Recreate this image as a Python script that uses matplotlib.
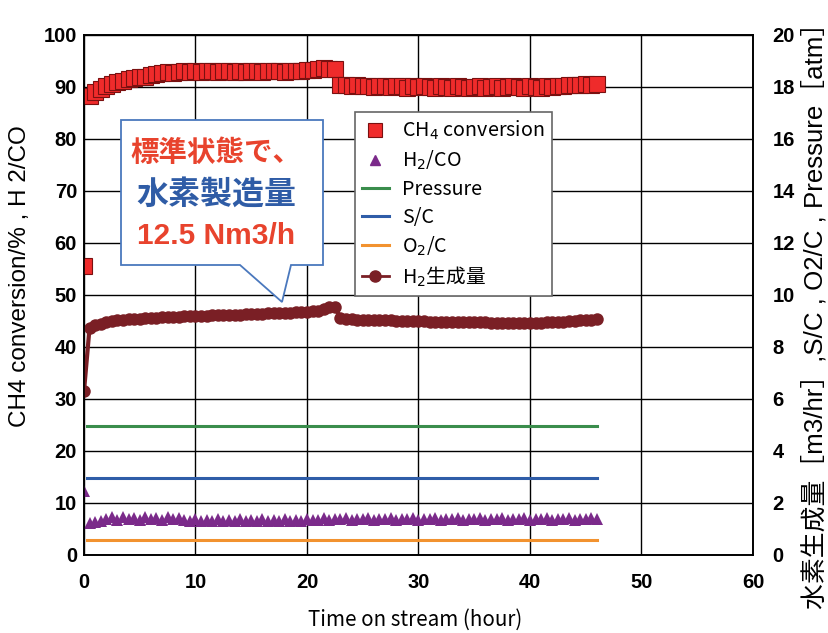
import matplotlib
matplotlib.use("Agg")
import matplotlib.pyplot as plt
from matplotlib.patches import Polygon
from matplotlib.lines import Line2D

# ---------------- data ----------------
hours = [0, 0.5, 1, 1.5, 2, 2.5, 3, 3.5, 4, 4.5,
         5, 5.5, 6, 6.5, 7, 7.5, 8, 8.5, 9, 9.5,
         10, 10.5, 11, 11.5, 12, 12.5, 13, 13.5, 14, 14.5,
         15, 15.5, 16, 16.5, 17, 17.5, 18, 18.5, 19, 19.5,
         20, 20.5, 21, 21.5, 22, 22.5, 23, 23.5, 24, 24.5,
         25, 25.5, 26, 26.5, 27, 27.5, 28, 28.5, 29, 29.5,
         30, 30.5, 31, 31.5, 32, 32.5, 33, 33.5, 34, 34.5,
         35, 35.5, 36, 36.5, 37, 37.5, 38, 38.5, 39, 39.5,
         40, 40.5, 41, 41.5, 42, 42.5, 43, 43.5, 44, 44.5,
         45, 45.5, 46]

ch4_conv = [55.5, 88.3, 89.0, 89.6, 90.1, 90.6, 90.9, 91.2, 91.5, 91.7,
            91.9, 92.0, 92.3, 92.5, 92.6, 92.8, 92.6, 92.9, 93.0, 92.9,
            93.0, 92.9, 93.1, 93.0, 92.9, 93.0, 93.1, 92.9, 93.0, 92.8,
            93.0, 93.1, 92.9, 93.0, 93.1, 93.0, 92.9, 93.0, 93.1, 93.0,
            93.2, 93.3, 93.4, 93.6, 93.5, 93.4, 90.4, 90.3, 90.2, 90.3,
            90.1, 90.2, 90.0, 90.2, 90.1, 90.0, 90.2, 90.1, 89.9, 90.1,
            90.0, 90.2, 90.0, 89.9, 90.1, 90.0, 89.9, 90.1, 90.0, 89.8,
            90.0, 90.1, 89.9, 90.0, 90.1, 89.9, 90.0, 90.1, 90.0, 89.9,
            90.1, 90.0, 89.9, 90.1, 90.0, 90.2, 90.1, 90.3, 90.4, 90.3,
            90.5, 90.4, 90.6]

h2_co = [12.3, 6.2, 6.3, 6.5, 6.9, 7.3, 6.8, 7.3, 6.9, 7.2,
         6.8, 7.3, 6.9, 7.2, 6.8, 7.3, 6.9, 7.2, 6.8, 6.6,
         6.9, 6.6, 6.8, 6.5, 6.9, 6.6, 6.8, 6.6, 6.9, 6.5,
         6.8, 6.6, 6.9, 6.6, 6.8, 6.5, 6.9, 6.6, 6.8, 6.6,
         6.9, 6.7, 6.8, 7.1, 6.8, 7.0, 6.9, 7.1, 6.8, 7.0,
         6.9, 7.1, 6.8, 7.0, 6.9, 7.1, 6.8, 7.0, 6.9, 7.1,
         6.8, 7.0, 6.9, 7.1, 6.8, 7.0, 6.9, 7.1, 6.8, 7.0,
         6.9, 7.1, 6.8, 7.0, 6.9, 7.1, 6.8, 7.0, 6.9, 7.1,
         6.8, 7.0, 6.9, 7.1, 6.8, 7.0, 6.9, 7.1, 6.8, 7.0,
         6.9, 7.1, 7.0]

h2_prod = [6.3, 8.75, 8.85, 8.9, 8.95, 9.0, 9.02, 9.04, 9.06, 9.07,
           9.08, 9.1, 9.12, 9.13, 9.14, 9.15, 9.16, 9.17, 9.18, 9.19,
           9.2, 9.2, 9.21, 9.22, 9.22, 9.23, 9.24, 9.24, 9.25, 9.26,
           9.27, 9.27, 9.28, 9.29, 9.3, 9.31, 9.32, 9.32, 9.33, 9.34,
           9.35, 9.37, 9.4, 9.45, 9.52, 9.54, 9.12, 9.08, 9.06, 9.05,
           9.04, 9.04, 9.03, 9.03, 9.02, 9.02, 9.01, 9.01, 9.0, 9.0,
           8.99, 8.99, 8.98, 8.98, 8.97, 8.97, 8.97, 8.96, 8.96, 8.96,
           8.95, 8.95, 8.95, 8.94, 8.94, 8.94, 8.93, 8.93, 8.93, 8.92,
           8.92, 8.93, 8.94, 8.95, 8.96, 8.97, 8.98, 9.0, 9.01, 9.02,
           9.03, 9.05, 9.06]

line_hours = [0.3, 46]
pressure = [4.95, 4.95]
s_c = [2.95, 2.95]
o2_c = [0.58, 0.58]

x_ticks = [0, 10, 20, 30, 40, 50, 60]
left_ticks = [0, 10, 20, 30, 40, 50, 60, 70, 80, 90, 100]
right_ticks = [0, 2, 4, 6, 8, 10, 12, 14, 16, 18, 20]

legend_labels = ["CH$_4$ conversion", "H$_2$/CO", "Pressure", "S/C", "O$_2$/C", "H$_2$生成量"]
callout_lines = ["標準状態で、", "水素製造量", "12.5 Nm3/h"]

# ---------------- colours ----------------
c_ch4 = "#ef2b2b"
c_ch4_edge = "#7a1010"
c_h2co = "#7b2a8a"
c_press = "#3a8d4c"
c_sc = "#2f5da8"
c_o2c = "#f2922f"
c_h2 = "#7a1f25"
c_red_txt = "#e8432d"
c_blue_txt = "#2f5ca6"

W, H = 829, 633
fig = plt.figure(figsize=(W / 100, H / 100), dpi=100)
ax = fig.add_axes([84 / W, 1 - 555 / H, (753 - 84) / W, (555 - 35) / H])
ax2 = ax.twinx()

# left axis series
ax.plot(hours, ch4_conv, linestyle="none", marker="s", markersize=11.5,
        markerfacecolor=c_ch4, markeredgecolor=c_ch4_edge, markeredgewidth=0.8, zorder=4)
ax.plot(hours, h2_co, linestyle="none", marker="^", markersize=8.5,
        color=c_h2co, markeredgewidth=0, zorder=4)

# right axis series
ax2.plot(line_hours, pressure, color=c_press, lw=2.2)
ax2.plot(line_hours, s_c, color=c_sc, lw=2.2)
ax2.plot(line_hours, o2_c, color=c_o2c, lw=2.2)
ax2.plot(hours, h2_prod, color=c_h2, lw=3, marker="o", markersize=9, markeredgewidth=0)

ax.set_xlim(0, 60)
ax.set_ylim(0, 100)
ax2.set_ylim(0, 20)
ax.set_xticks(x_ticks)
ax.set_yticks(left_ticks)
ax2.set_yticks(right_ticks)

tick_font = dict(family="Liberation Sans", weight="bold", size=14.5)
ax.set_xticklabels([str(v) for v in x_ticks], fontdict=tick_font)
ax.set_yticklabels([str(v) for v in left_ticks], fontdict=tick_font)
ax2.set_yticklabels([str(v) for v in right_ticks], fontdict=tick_font)
ax.tick_params(axis="x", length=0, pad=13)
ax.tick_params(axis="y", length=0, pad=5)
ax2.tick_params(axis="y", length=0, pad=14)

ax.grid(True, color="black", lw=1.0)
ax.set_axisbelow(True)
for a in (ax, ax2):
    for s in a.spines.values():
        s.set_color("black")
        s.set_linewidth(1.2)

# axis labels
fig.text(20 / W, 1 - 276 / H, "CH4 conversion/% , H 2/CO", rotation=90,
         ha="center", va="center", family=["Liberation Sans", "Noto Sans CJK JP"], size=17.5)
fig.text(415 / W, 1 - 620 / H, "Time on stream (hour)",
         ha="center", va="center", family=["Noto Sans CJK JP"], size=14.8)
fig.text(815 / W, 1 - 10 / H, "水素生成量［m3/hr］,S/C , O2/C , Pressure［atm］",
         rotation=90, ha="center", va="top",
         family=["Liberation Sans", "Noto Sans CJK JP"], size=18.6)

# legend
handles = [
    Line2D([], [], linestyle="none", marker="s", markersize=9.5, markerfacecolor=c_ch4,
           markeredgecolor=c_ch4_edge, markeredgewidth=0.8),
    Line2D([], [], linestyle="none", marker="^", markersize=7.5, color=c_h2co),
    Line2D([], [], color=c_press, lw=2.2),
    Line2D([], [], color=c_sc, lw=2.2),
    Line2D([], [], color=c_o2c, lw=2.2),
    Line2D([], [], color=c_h2, lw=2, marker="o", markersize=8),
]
leg = fig.legend(handles, legend_labels, loc="upper left",
                 bbox_to_anchor=(355 / W, 1 - 112 / H), bbox_transform=fig.transFigure,
                 prop={"family": ["Noto Sans CJK JP"], "size": 14.2},
                 frameon=True, fancybox=False, framealpha=1, edgecolor="#666666",
                 borderaxespad=0, numpoints=1, handlelength=1.35, handletextpad=0.7,
                 labelspacing=0.34, borderpad=0.35)
leg.get_frame().set_linewidth(1.2)
leg.set_zorder(20)

# callout
pts = [(121, 120), (323, 120), (323, 265), (291, 265), (282, 302), (240, 265), (121, 265)]
poly = Polygon([(x / W, 1 - y / H) for x, y in pts], closed=True, transform=fig.transFigure,
               facecolor="white", edgecolor="#4a78bd", lw=1.3, zorder=15)
fig.add_artist(poly)
cx = 216 / W
fig.text(cx, 1 - 153 / H, callout_lines[0], ha="center", va="center", color=c_red_txt,
         family=["Noto Sans CJK JP"], weight="bold", size=20.5, zorder=16)
fig.text(cx, 1 - 195 / H, callout_lines[1], ha="center", va="center", color=c_blue_txt,
         family=["Noto Sans CJK JP"], weight="bold", size=23, zorder=16)
fig.text(cx, 1 - 236 / H, callout_lines[2], ha="center", va="center", color=c_red_txt,
         family=["Liberation Sans"], weight="bold", size=21.5, zorder=16)

fig.savefig("out.png", dpi=100)
